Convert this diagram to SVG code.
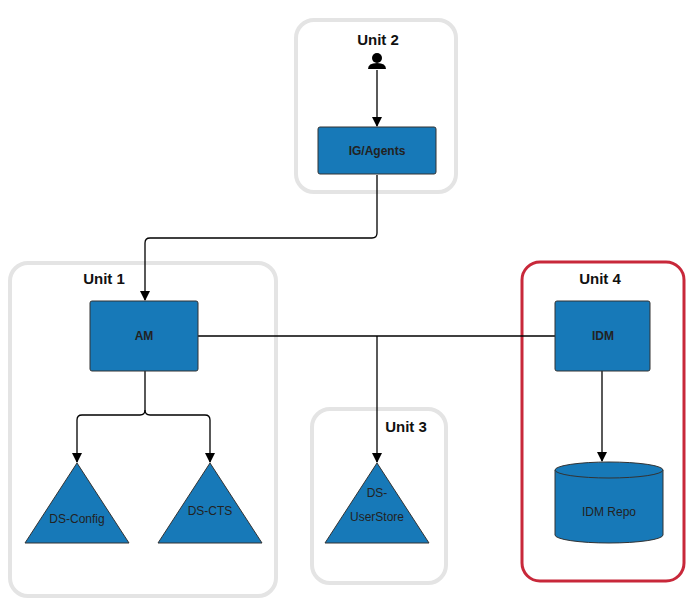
<svg xmlns="http://www.w3.org/2000/svg" width="700" height="610" viewBox="0 0 700 610">
<style>
.unit{fill:none;stroke:#e4e4e4;stroke-width:4}
.node{fill:#1779b8;stroke:#333;stroke-width:1}
.lbl{font-family:"Liberation Sans",Arial,sans-serif;font-size:12px;fill:#222;text-anchor:middle}
.ut{font-family:"Liberation Sans",Arial,sans-serif;font-size:15px;font-weight:bold;fill:#111;text-anchor:middle}
.c{fill:none;stroke:#000;stroke-width:1.3}
</style>
<defs><marker id="a" markerWidth="10" markerHeight="10" refX="9" refY="5" orient="auto" markerUnits="userSpaceOnUse"><path d="M0,0 L10,5 L0,10 Z" fill="#000"/></marker></defs>
<g id="unit2"><rect class="unit" x="296" y="20" width="160" height="172" rx="18"/><text class="ut" x="378" y="45">Unit 2</text>
<circle cx="377" cy="58" r="5" fill="#000"/><path d="M368,69 Q368,63 377,63 Q386,63 386,69 Z" fill="#000"/></g>
<g id="unit1"><rect class="unit" x="10" y="263" width="266" height="333" rx="18"/><text class="ut" x="104" y="284">Unit 1</text></g>
<g id="unit3"><rect class="unit" x="312" y="409" width="134" height="174" rx="18"/><text class="ut" x="406" y="432">Unit 3</text></g>
<g id="unit4"><rect x="522" y="262" width="162" height="319" rx="18" fill="none" stroke="#c8283a" stroke-width="3"/><text class="ut" x="600" y="284">Unit 4</text></g>
<g id="connectors">
<path class="c" d="M377,70 V126" marker-end="url(#a)"/>
<path class="c" d="M377,175 V233 Q377,238 372,238 H150 Q145,238 145,243 V300" marker-end="url(#a)"/>
<path class="c" d="M198,336 H555"/>
<path class="c" d="M377,336 V462" marker-end="url(#a)"/>
<path class="c" d="M145,371 V410 Q145,415 140,415 H82 Q77,415 77,420 V462" marker-end="url(#a)"/>
<path class="c" d="M145,410 Q145,415 150,415 H205 Q210,415 210,420 V462" marker-end="url(#a)"/>
<path class="c" d="M602,371 V461" marker-end="url(#a)"/>
</g>
<g id="ig"><rect class="node" x="318" y="127" width="118" height="47" rx="2"/><text class="lbl" x="377" y="155" font-weight="bold">IG/Agents</text></g>
<g id="am"><rect class="node" x="90" y="301" width="108" height="70" rx="2"/><text class="lbl" x="144" y="340" font-weight="bold">AM</text></g>
<g id="idm"><rect class="node" x="555" y="301" width="95" height="70" rx="2"/><text class="lbl" x="603" y="340" font-weight="bold">IDM</text></g>
<g id="dsconfig"><path class="node" d="M77,463 L129,543 L25,543 Z"/><text class="lbl" x="77" y="523">DS-Config</text></g>
<g id="dscts"><path class="node" d="M210,463 L262,543 L158,543 Z"/><text class="lbl" x="210" y="515">DS-CTS</text></g>
<g id="dsus"><path class="node" d="M377,463 L429,543 L325,543 Z"/><text class="lbl" x="377" y="497">DS-</text><text class="lbl" x="377" y="521">UserStore</text></g>
<g id="idmrepo"><path class="node" d="M555,470 V535 A54,8 0 0 0 663,535 V470"/><ellipse class="node" cx="609" cy="470" rx="54" ry="8"/><text class="lbl" x="609" y="516">IDM Repo</text></g>
</svg>
